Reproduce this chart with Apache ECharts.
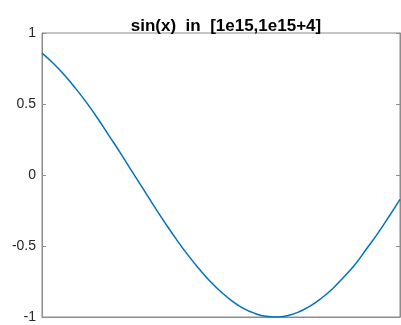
<!DOCTYPE html>
<html>
<head>
<meta charset="utf-8">
<script src="https://cdn.jsdelivr.net/npm/echarts@6/dist/echarts.min.js"></script>
<style>
  html, body { margin: 0; padding: 0; background: #fff; }
  #chart { width: 401px; height: 325px; }
</style>
</head>
<body>
<div id="chart"></div>
<script>
// offsets from 1e15
const xOffsets = [0, 0.125, 0.25, 0.375, 0.5, 0.625, 0.75, 0.875, 1, 1.125, 1.25, 1.375, 1.5, 1.625, 1.75, 1.875,
  2, 2.125, 2.25, 2.375, 2.5, 2.625, 2.75, 2.875, 3, 3.125, 3.25, 3.375, 3.5, 3.625, 3.75, 3.875, 4];
const sinValues = [0.858, 0.787, 0.704, 0.610, 0.508, 0.396, 0.276, 0.156, 0.031, -0.093, -0.217, -0.337, -0.452, -0.559, -0.657, -0.747,
  -0.823, -0.888, -0.939, -0.974, -0.995, -1.0, -0.989, -0.963, -0.922, -0.866, -0.799, -0.716, -0.628, -0.521, -0.413, -0.294, -0.171];
const yTicks = [-1, -0.5, 0, 0.5, 1];

const chart = echarts.init(document.getElementById("chart"));
const axisGray = "#8c8c8c";
const textDark = "#262626";

chart.setOption({
  animation: false,
  title: {
    text: "sin(x)  in  [1e15,1e15+4]",
    left: 221,
    textAlign: "center",
    top: 13,
    textStyle: { fontFamily: "Liberation Sans", fontSize: 17, fontWeight: "bold", color: "#000" }
  },
  grid: {
    left: 42, right: 1, top: 33, bottom: 8,
    show: true, borderColor: axisGray, borderWidth: 1, backgroundColor: "#fff"
  },
  xAxis: {
    type: "value", min: 0, max: 4,
    axisLine: { show: true, onZero: false, lineStyle: { color: axisGray } },
    axisTick: { show: false },
    axisLabel: { show: false },
    splitLine: { show: false }
  },
  yAxis: [
    {
      type: "value", min: -1, max: 1, interval: 0.5,
      axisLine: { show: true, onZero: false, lineStyle: { color: axisGray } },
      axisTick: { show: true, inside: true, length: 4, lineStyle: { color: axisGray } },
      axisLabel: {
        color: textDark, fontFamily: "Liberation Sans", fontSize: 14, margin: 6,
        formatter: function (v) { return yTicks.indexOf(v) >= 0 ? String(v) : ""; }
      },
      splitLine: { show: false }
    },
    {
      type: "value", min: -1, max: 1, interval: 0.5, position: "right",
      axisLine: { show: true, onZero: false, lineStyle: { color: axisGray } },
      axisTick: { show: true, inside: true, length: 4, lineStyle: { color: axisGray } },
      axisLabel: { show: false },
      splitLine: { show: false }
    }
  ],
  series: [{
    type: "line",
    data: xOffsets.map(function (x, i) { return [x, sinValues[i]]; }),
    smooth: true,
    showSymbol: false,
    lineStyle: { color: "#0072BD", width: 1.5 }
  }]
});
</script>
</body>
</html>
